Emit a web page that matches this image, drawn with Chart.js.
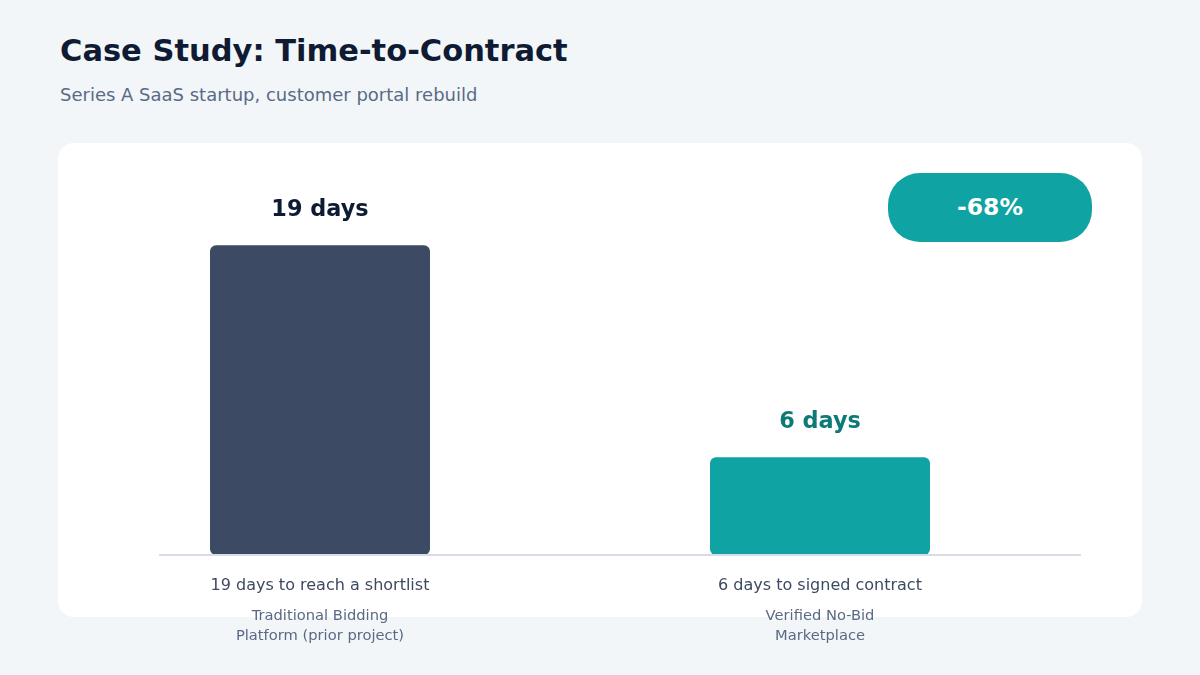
<!DOCTYPE html>
<html>
<head>
<meta charset="utf-8">
<script src="https://cdn.jsdelivr.net/npm/chart.js@4"></script>
<style>
  html, body { margin: 0; padding: 0; }
  body { width: 1200px; height: 675px; background: #f3f6f9; position: relative; overflow: hidden; font-family: "DejaVu Sans", sans-serif; }
  h1 { position: absolute; left: 60px; top: 33px; margin: 0; font-size: 30.5px; font-weight: bold; color: #0f1b33; }
  .sub { position: absolute; left: 60px; top: 84px; margin: 0; font-size: 18px; color: #5a6a85; }
  .card { position: absolute; left: 58px; top: 143px; width: 1084px; height: 474px; background: #fff; border-radius: 16px; }
  .badge { position: absolute; left: 888px; top: 173px; width: 204px; height: 69px; border-radius: 32px; background: #10a3a3; color: #fff; font-weight: bold; font-size: 23.5px; line-height: 69px; text-align: center; }
  #wrap { position: absolute; left: 0; top: 0; width: 1200px; height: 675px; }
</style>
</head>
<body>
<h1>Case Study: Time-to-Contract</h1>
<p class="sub">Series A SaaS startup, customer portal rebuild</p>
<div class="card"></div>
<div id="wrap"><canvas id="chart" width="1200" height="675"></canvas></div>
<div class="badge">-68%</div>
<script>
// data
var categories = ["Traditional Bidding Platform (prior project)", "Verified No-Bid Marketplace"];
var days = [19, 6];
var valueLabels = ["19 days", "6 days"];
var captions = ["19 days to reach a shortlist", "6 days to signed contract"];
var subLines = [["Traditional Bidding", "Platform (prior project)"], ["Verified No-Bid", "Marketplace"]];
var barColors = ["#3d4a63", "#10a3a3"];
var labelColors = ["#0f1b33", "#0e7a76"];

var labelsPlugin = {
    id: "labels",
    afterDatasetsDraw: function (chart) {
        var ctx = chart.ctx;
        var area = chart.chartArea;
        var x = chart.scales.x;
        var meta = chart.getDatasetMeta(0);

        // baseline
        ctx.save();
        ctx.strokeStyle = "#d8dce6";
        ctx.lineWidth = 2;
        ctx.beginPath();
        ctx.moveTo(area.left + 89, area.bottom);
        ctx.lineTo(area.right + 11, area.bottom);
        ctx.stroke();

        ctx.textAlign = "center";
        ctx.textBaseline = "middle";
        for (var i = 0; i < days.length; i++) {
            var bar = meta.data[i];
            var cx = x.getPixelForValue(i);
            ctx.font = "bold 22.4px 'DejaVu Sans'";
            ctx.fillStyle = labelColors[i];
            ctx.fillText(valueLabels[i], cx, bar.y - 35);

            ctx.font = "16px 'DejaVu Sans'";
            ctx.fillStyle = "#3d4a60";
            ctx.fillText(captions[i], cx, area.bottom + 31);

            ctx.font = "14.7px 'DejaVu Sans'";
            ctx.fillStyle = "#5a6a85";
            for (var j = 0; j < subLines[i].length; j++) {
                ctx.fillText(subLines[i][j], cx, area.bottom + 61 + j * 20);
            }
        }
        ctx.restore();
    }
};

new Chart(document.getElementById("chart"), {
    type: "bar",
    data: {
        labels: categories,
        datasets: [{
            data: days,
            backgroundColor: barColors,
            borderRadius: 6,
            borderSkipped: false,
            categoryPercentage: 1,
            barPercentage: 0.44
        }]
    },
    options: {
        responsive: false,
        animation: false,
        maintainAspectRatio: false,
        layout: { padding: { left: 70, right: 130, top: 229, bottom: 120 } },
        plugins: { legend: { display: false }, tooltip: { enabled: false } },
        scales: {
            x: { display: false },
            y: { display: false, min: 0, max: 20 }
        }
    },
    plugins: [labelsPlugin]
});
</script>
</body>
</html>
